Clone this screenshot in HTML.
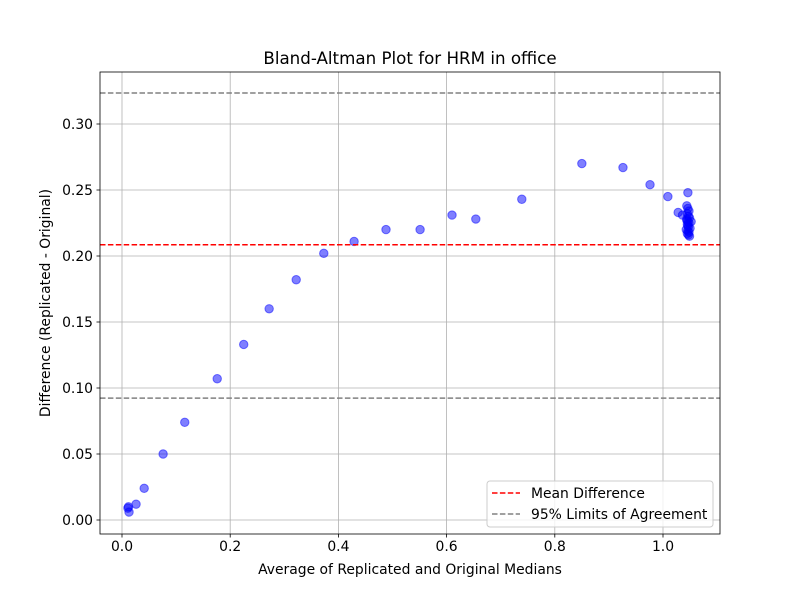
<!DOCTYPE html>
<html><head><meta charset="utf-8"><style>
body{margin:0;background:#fff;font-family:"DejaVu Sans","Liberation Sans",sans-serif}
</style></head><body>
<svg id="c" width="800" height="600" xmlns="http://www.w3.org/2000/svg" font-family="DejaVu Sans, Liberation Sans, sans-serif"></svg>
<script>
const xs=[0.011,0.013,0.012,0.026,0.041,0.076,0.116,0.176,0.225,0.272,0.322,0.373,0.429,0.488,0.551,0.610,0.654,0.739,0.850,0.926,0.976,1.009,1.028,1.046,
1.044,1.046,1.048,1.045,1.047,1.049,1.044,1.046,1.048,1.045,1.047,1.050,1.043,1.046,1.048,1.045,1.047,1.049,1.044,1.046,1.036,1.052];
const ys=[0.009,0.006,0.010,0.012,0.024,0.050,0.074,0.107,0.133,0.160,0.182,0.202,0.211,0.220,0.220,0.231,0.228,0.243,0.270,0.267,0.254,0.245,0.233,0.248,
0.238,0.236,0.234,0.232,0.230,0.229,0.228,0.226,0.225,0.224,0.222,0.221,0.220,0.219,0.218,0.217,0.216,0.215,0.227,0.223,0.231,0.226];
const meanDiff=0.2085, loaUpper=0.3235, loaLower=0.0923;
const xTicks=[0,0.2,0.4,0.6,0.8,1.0], xTickLabels=["0.0","0.2","0.4","0.6","0.8","1.0"];
const yTicks=[0,0.05,0.1,0.15,0.2,0.25,0.3], yTickLabels=["0.00","0.05","0.10","0.15","0.20","0.25","0.30"];
const L=100,R=720,T=72,B=534;
const X=v=>122+v*541, Y=v=>520-v*1320;
const s=document.getElementById('c');const NS="http://www.w3.org/2000/svg";
function mk(t,a,p){const e=document.createElementNS(NS,t);for(const k in a)e.setAttribute(k,a[k]);(p||s).appendChild(e);return e;}
const grid=mk('g',{});


xTicks.forEach((v,i)=>{mk('line',{x1:X(v),x2:X(v),y1:T,y2:B,stroke:'#b0b0b0','stroke-width':0.8},grid);
 mk('line',{x1:X(v),x2:X(v),y1:B,y2:B+3.5,stroke:'#000','stroke-width':0.8});
 const t=mk('text',{x:X(v),y:B+17,'font-size':13.9,'text-anchor':'middle'});t.textContent=xTickLabels[i];
 
 });
yTicks.forEach((v,i)=>{mk('line',{x1:L,x2:R,y1:Y(v),y2:Y(v),stroke:'#b0b0b0','stroke-width':0.8},grid);
 mk('line',{x1:L-3.5,x2:L,y1:Y(v),y2:Y(v),stroke:'#000','stroke-width':0.8});
 const t=mk('text',{x:L-7,y:Y(v)+5,'font-size':13.9,'text-anchor':'end'});t.textContent=yTickLabels[i];
 
 });
const pts=mk('g',{});


xs.forEach((v,i)=>{const c=mk('circle',{cx:X(v),cy:Y(ys[i]),r:4.2,fill:'rgba(0,0,255,0.5)',stroke:'rgba(0,0,255,0.5)','stroke-width':1},pts);
 
 });
const ml=mk('line',{x1:L,x2:R,y1:Y(meanDiff),y2:Y(meanDiff),stroke:'red','stroke-width':1.5,'stroke-dasharray':'5.5,2.4'});


[loaUpper,loaLower].forEach(v=>{const l=mk('line',{x1:L,x2:R,y1:Y(v),y2:Y(v),stroke:'gray','stroke-width':1.5,'stroke-dasharray':'5.5,2.4'});
 
 });
mk('rect',{x:L,y:T,width:R-L,height:B-T,fill:'none',stroke:'#000','stroke-width':0.8});
</script>
<svg style="position:absolute;left:0;top:0" width="800" height="600" font-family="DejaVu Sans, Liberation Sans, sans-serif">
<text x="410" y="64" font-size="16.7" text-anchor="middle">Bland-Altman Plot for HRM in office</text>
<text x="410" y="574" font-size="13.9" text-anchor="middle">Average of Replicated and Original Medians</text>
<text transform="translate(50,303) rotate(-90)" font-size="13.9" text-anchor="middle">Difference (Replicated - Original)</text>
<g>
<rect x="487" y="481" width="226" height="46" rx="3" fill="rgba(255,255,255,0.8)" stroke="#ccc"/>
<line x1="492" y1="493" x2="520" y2="493" stroke="red" stroke-width="1.5" stroke-dasharray="5.5,2.4"/>
<text x="531" y="498" font-size="13.9">Mean Difference</text>
<line x1="492" y1="514" x2="520" y2="514" stroke="gray" stroke-width="1.5" stroke-dasharray="5.5,2.4"/>
<text x="531" y="519" font-size="13.9">95% Limits of Agreement</text>
</g>
</svg>
</body></html>
